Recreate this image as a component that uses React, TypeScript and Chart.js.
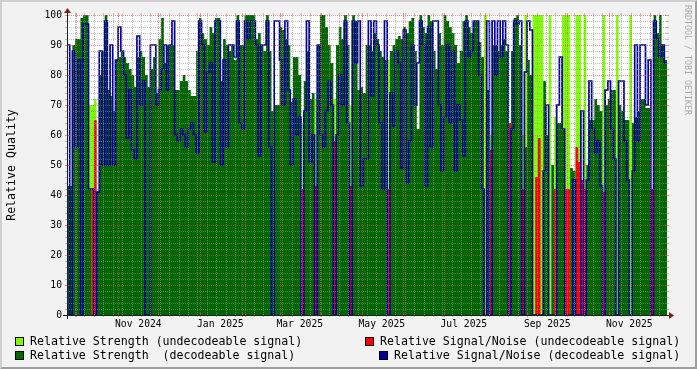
import { useEffect, useRef } from "react";
import { Chart, registerables } from "chart.js";

Chart.register(...registerables);

// ---------------- data ----------------
const SLOT_START = "2024-09-24"; // first sample (2-day samples)
const SLOT_DAYS = 2;

// Relative Strength (decodeable signal), one value per 2-day sample; null = not decodeable
const strengthDecoded: (number | null)[] = [
  43, 43, 90, 92, 92, 99, 100, 100, 42, null,
  null, 41, 80, 88, 100, 75, 73, 68, 85, 86,
  88, 86, 84, 82, 80, 76, 86, 88, 86, 80,
  76, 82, 86, 74, 92, 99, 84, 90, 90, 90,
  75, 75, 78, 80, 78, 75, 73, 73, 88, 99,
  94, 92, 90, 96, 94, 99, 99, 78, 92, 90,
  88, 90, 85, 100, 90, 90, 100, 100, 100, 100,
  92, 94, 90, 88, 100, 88, 68, 70, 70, 96,
  95, 92, 90, 71, 86, 86, 80, null, 78, 88,
  72, 74, null, 90, 100, 100, 96, 90, 84, null,
  90, 96, 92, 100, 90, null, 100, 98, 75, 76,
  74, 90, 90, 88, 94, 92, 88, 86, 85, null,
  88, 90, 92, 93, 92, 96, 94, 98, 99, 88,
  62, 100, 96, 94, 100, 98, 88, 82, 94, 90,
  100, 98, 96, 94, 90, 84, 88, 98, 100, 96,
  94, 98, 98, 91, 86, null, 75, null, 90, 90,
  88, 90, 92, 88, null, 88, 99, 100, 90, null,
  56, 85, 80, null, null, null, null, 78, 60, null,
  50, null, 64, 64, 62, null, null, 49, 48, null,
  null, null, null, 50, 65, 65, 72, 70, 68, null,
  70, 72, 75, 75, null, 70, 68, 65, 65, null,
  64, 66, 68, 72, 72, 69, 69, null, 100, 94,
  100, 90, 85,
];

// Relative Signal/Noise (decodeable signal)
const snrDecoded: number[] = [
  90, 0, 88, 56, 85, 0, 97, 97, 42, 42,
  0, 41, 88, 50, 98, 50, 90, 50, 85, 96,
  88, 80, 59, 75, 55, 52, 93, 70, 78, 0,
  0, 90, 90, 70, 75, 82, 90, 75, 90, 98,
  60, 58, 62, 60, 56, 62, 64, 60, 54, 98,
  90, 61, 81, 84, 51, 98, 98, 50, 85, 56,
  90, 90, 86, 98, 64, 62, 98, 92, 98, 98,
  90, 53, 90, 90, 98, 56, 0, 98, 98, 85,
  70, 98, 75, 50, 72, 60, 66, 0, 68, 98,
  51, 60, 0, 90, 60, 56, 68, 78, 70, 0,
  60, 80, 70, 98, 64, 0, 98, 84, 98, 43,
  52, 52, 98, 73, 98, 90, 64, 42, 98, 0,
  74, 63, 88, 84, 49, 95, 44, 58, 90, 70,
  84, 98, 90, 43, 96, 56, 98, 98, 70, 48,
  66, 90, 64, 88, 48, 70, 65, 53, 98, 86,
  88, 98, 98, 80, 42, 0, 98, 0, 98, 80,
  98, 86, 98, 90, 0, 62, 98, 97, 98, 0,
  81, 98, 95, 0, 0, 0, 0, 48, 70, 0,
  0, 0, 70, 86, 62, 0, 0, 0, 45, 0,
  0, 68, 0, 45, 78, 62, 54, 58, 43, 0,
  75, 78, 62, 52, 0, 78, 78, 58, 45, 0,
  48, 90, 58, 90, 90, 70, 85, 0, 98, 92,
  86, 90, 84,
];

// Samples with undecodeable signal (sample index), their strength and signal/noise
const undecodedSlots = [8, 9, 10, 87, 92, 99, 105, 119, 155, 157, 164, 169, 170, 173, 174, 175, 176, 179, 181, 184, 185, 186, 189, 190, 191, 192, 199, 204, 209, 217];
const undecodedStrength = [70, 70, 72, 64, 72, 72, 70, 85, 100, 60, 0, 60, 100, 100, 100, 100, 100, 100, 66, 100, 100, 100, 100, 100, 0, 100, 100, 100, 100, 42];
const undecodedSnr = [0, 42, 65, 42, 43, 58, 43, 42, 0, 55, 64, 42, 0, 0, 46, 59, 0, 0, 42, 0, 42, 42, 56, 51, 45, 42, 41, 0, 0, 42];

const yTicks = [0, 10, 20, 30, 40, 50, 60, 70, 80, 90, 100];
const xTickLabels = ["Nov 2024", "Jan 2025", "Mar 2025", "May 2025", "Jul 2025", "Sep 2025", "Nov 2025"];
const xTickMonths = ["2024-11-01", "2025-01-01", "2025-03-01", "2025-05-01", "2025-07-01", "2025-09-01", "2025-11-01"];

const legendItems = [
  { label: "Relative Strength (undecodeable signal)", color: "#80ff00" },
  { label: "Relative Signal/Noise (undecodeable signal)", color: "#ff0000" },
  { label: "Relative Strength  (decodeable signal)", color: "#006600" },
  { label: "Relative Signal/Noise (decodeable signal)", color: "#000099" },
];

// ---------------- helpers ----------------
const DAY = 86400000;
const dayOf = (iso: string) => (Date.parse(iso + "T00:00:00Z") - Date.parse(SLOT_START + "T00:00:00Z")) / DAY;
const N = snrDecoded.length;
const X_MIN = 0;
const X_MAX = N * SLOT_DAYS;

function expandSparse(values: number[]) {
  const out: number[] = new Array(N).fill(0);
  undecodedSlots.forEach((s, i) => (out[s] = values[i]));
  return out;
}

function stepPoints(values: (number | null)[]) {
  const pts = values.map((v, k) => ({ x: k * SLOT_DAYS, y: v == null ? 0 : v }));
  const last = values[values.length - 1];
  pts.push({ x: values.length * SLOT_DAYS, y: last == null ? 0 : last });
  return pts;
}

const MONO = "'DejaVu Sans Mono', monospace";

const rrdPlugin = {
  id: "rrdLook",
  beforeDraw(chart: any) {
    const { ctx, width, height, chartArea: a } = chart;
    ctx.save();
    ctx.fillStyle = "#f2f2f2";
    ctx.fillRect(0, 0, width, height);
    ctx.fillStyle = "rgb(207,207,207)";
    ctx.beginPath();
    ctx.moveTo(0, height); ctx.lineTo(2, height - 2); ctx.lineTo(2, 2);
    ctx.lineTo(width - 2, 2); ctx.lineTo(width, 0); ctx.lineTo(0, 0);
    ctx.closePath(); ctx.fill();
    ctx.fillStyle = "rgb(158,158,158)";
    ctx.beginPath();
    ctx.moveTo(2, height - 2); ctx.lineTo(width - 2, height - 2); ctx.lineTo(width - 2, 2);
    ctx.lineTo(width, 0); ctx.lineTo(width, height); ctx.lineTo(0, height);
    ctx.closePath(); ctx.fill();
    ctx.fillStyle = "#ffffff";
    ctx.fillRect(a.left, a.top, a.right - a.left, a.bottom - a.top);
    ctx.restore();
  },
  afterDatasetsDraw(chart: any) {
    const { ctx, chartArea: a } = chart;
    const xs = chart.scales.x;
    const ys = chart.scales.y;
    const X0 = a.left, X1 = a.right, Y0 = a.bottom, Y1 = a.top;
    const minorC = "rgba(143,143,143,0.55)";
    const majorC = "rgba(222,79,79,0.6)";
    ctx.save();
    ctx.lineWidth = 1;
    // horizontal grid
    for (let v = 0; v <= 100; v += 2) {
      const py = Math.round(ys.getPixelForValue(v)) + 0.5;
      const major = v % 10 === 0;
      ctx.strokeStyle = major ? majorC : minorC;
      ctx.setLineDash([]);
      ctx.beginPath();
      ctx.moveTo(X0 - 2, py); ctx.lineTo(X0 + (major ? 2 : 1), py);
      ctx.moveTo(X1 - (major ? 2 : 1), py); ctx.lineTo(X1 + 2, py);
      ctx.stroke();
      ctx.setLineDash([1, 1]);
      ctx.beginPath();
      ctx.moveTo(X0, py); ctx.lineTo(X1, py);
      ctx.stroke();
    }
    // vertical grid: weeks (minor) and month starts (major)
    const monthDays: number[] = [];
    const start = new Date(SLOT_START + "T00:00:00Z");
    let yy = start.getUTCFullYear(), mm = start.getUTCMonth() + 1;
    for (;;) {
      const d = (Date.UTC(yy, mm, 1) - start.getTime()) / DAY;
      if (d > X_MAX) break;
      monthDays.push(d);
      mm++;
      if (mm > 11) { mm = 0; yy++; }
    }
    const firstMonday = (8 - start.getUTCDay()) % 7;
    const drawV = (d: number, major: boolean) => {
      const px = Math.round(xs.getPixelForValue(d)) + 0.5;
      if (px < X0 || px > X1) return;
      ctx.strokeStyle = major ? majorC : minorC;
      ctx.setLineDash([]);
      ctx.beginPath();
      ctx.moveTo(px, Y0 + 2); ctx.lineTo(px, Y0 - (major ? 2 : 1));
      ctx.moveTo(px, Y1 + (major ? 2 : 1)); ctx.lineTo(px, Y1 - 2);
      ctx.stroke();
      ctx.setLineDash([1, 1]);
      ctx.beginPath();
      ctx.moveTo(px, Y0); ctx.lineTo(px, Y1);
      ctx.stroke();
    };
    for (let d = firstMonday; d <= X_MAX; d += 7) {
      if (!monthDays.some((m) => Math.abs(m - d) < 0.5)) drawV(d, false);
    }
    monthDays.forEach((d) => drawV(d, true));
    // axes
    ctx.setLineDash([]);
    ctx.strokeStyle = "rgb(31,31,31)";
    ctx.beginPath();
    ctx.moveTo(X0 - 4, Y0 + 0.5); ctx.lineTo(X1 + 4, Y0 + 0.5);
    ctx.moveTo(X0 + 0.5, Y0 + 4); ctx.lineTo(X0 + 0.5, Y1 - 4);
    ctx.stroke();
    ctx.fillStyle = "rgb(128,31,31)";
    ctx.beginPath();
    ctx.moveTo(X1 + 2, Y0 - 3); ctx.lineTo(X1 + 2, Y0 + 4); ctx.lineTo(X1 + 7, Y0 + 0.5);
    ctx.closePath(); ctx.fill();
    ctx.beginPath();
    ctx.moveTo(X0 - 3, Y1 - 2); ctx.lineTo(X0 + 4, Y1 - 2); ctx.lineTo(X0 + 0.5, Y1 - 7);
    ctx.closePath(); ctx.fill();
    ctx.restore();
  },
  afterDraw(chart: any) {
    const { ctx } = chart;
    ctx.save();
    ctx.font = `11.6px ${MONO}`;
    ctx.textBaseline = "middle";
    const pos = [
      { bx: 15, by: 337, tx: 30, ty: 341.5 },
      { bx: 365, by: 337, tx: 380, ty: 341.5 },
      { bx: 15, by: 351, tx: 30, ty: 355.5 },
      { bx: 379, by: 351, tx: 394, ty: 355.5 },
    ];
    legendItems.forEach((it, i) => {
      const p = pos[i];
      ctx.fillStyle = it.color;
      ctx.fillRect(p.bx, p.by, 9, 9);
      ctx.strokeStyle = "#000";
      ctx.lineWidth = 1;
      ctx.strokeRect(p.bx + 0.5, p.by + 0.5, 8, 8);
      ctx.fillStyle = "#000";
      ctx.fillText(it.label, p.tx, p.ty);
    });
    // watermark
    ctx.translate(687, 5);
    ctx.rotate(Math.PI / 2);
    ctx.font = `8.3px ${MONO}`;
    ctx.fillStyle = "#aaaaaa";
    ctx.textBaseline = "middle";
    ctx.textAlign = "left";
    ctx.fillText("RRDTOOL / TOBI OETIKER", 0, 0);
    ctx.restore();
  },
};

export default function App() {
  const ref = useRef<HTMLCanvasElement | null>(null);
  useEffect(() => {
    if (!ref.current) return;
    const strengthU = expandSparse(undecodedStrength);
    const snrU = expandSparse(undecodedSnr);
    const labelDays = xTickMonths.map((m) => dayOf(m) + 15);
    const area = (label: string, values: (number | null)[], color: string, order: number) => ({
      label,
      data: stepPoints(values),
      stepped: true as const,
      fill: "origin" as const,
      backgroundColor: color,
      borderColor: "rgba(0,0,0,0)",
      borderWidth: 0,
      pointRadius: 0,
      clip: 0,
      order,
    });
    const chart = new Chart(ref.current, {
      type: "line",
      data: {
        datasets: [
          area("Relative Strength (undecodeable signal)", strengthU, "#80ff00", 4),
          area("Relative Signal/Noise (undecodeable signal)", snrU, "#ff0000", 3),
          area("Relative Strength (decodeable signal)", strengthDecoded, "#006600", 2),
          {
            label: "Relative Signal/Noise (decodeable signal)",
            data: stepPoints(snrDecoded),
            stepped: true,
            fill: false,
            borderColor: "#000099",
            borderWidth: 1.7,
            pointRadius: 0,
            clip: 0,
            order: 1,
          } as any,
        ],
      },
      options: {
        animation: false,
        responsive: false,
        devicePixelRatio: 1,
        events: [],
        layout: { padding: { left: 0, right: 30, top: 15, bottom: 34 } },
        plugins: { legend: { display: false }, tooltip: { enabled: false } },
        scales: {
          x: {
            type: "linear",
            min: X_MIN,
            max: X_MAX,
            grid: { display: false, drawTicks: false },
            border: { display: false },
            afterBuildTicks: (s: any) => {
              s.ticks = labelDays.map((v) => ({ value: v }));
            },
            afterFit: (s: any) => {
              s.height = 20;
            },
            ticks: {
              autoSkip: false,
              maxRotation: 0,
              minRotation: 0,
              padding: 4,
              color: "#000",
              font: { family: MONO, size: 9.7 },
              callback: (_v: any, i: number) => xTickLabels[i],
            },
          },
          y: {
            min: 0,
            max: 100,
            grid: { display: false, drawTicks: false },
            border: { display: false },
            afterBuildTicks: (s: any) => {
              s.ticks = yTicks.map((v) => ({ value: v }));
            },
            afterFit: (s: any) => {
              s.width = 67;
            },
            ticks: {
              padding: 5,
              color: "#000",
              font: { family: MONO, size: 9.7 },
              callback: (v: any) => String(v),
            },
            title: {
              display: true,
              text: "Relative Quality",
              color: "#000",
              font: { family: MONO, size: 11.6 },
              padding: { top: 5, bottom: 0 },
            },
          },
        },
      },
      plugins: [rrdPlugin],
    } as any);
    return () => chart.destroy();
  }, []);
  return (
    <div style={{ position: "absolute", left: 0, top: 0, width: 697, height: 369 }}>
      <canvas ref={ref} width={697} height={369} style={{ display: "block", width: 697, height: 369 }} />
    </div>
  );
}
